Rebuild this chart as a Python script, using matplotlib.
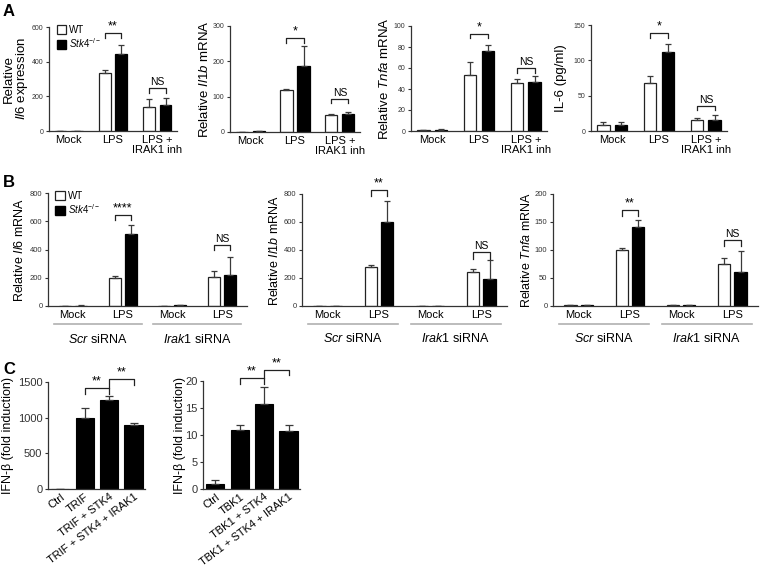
import numpy as np
import matplotlib
matplotlib.use("Agg")
import matplotlib.pyplot as plt
from matplotlib.patches import Patch

plt.rcParams["font.family"] = "Liberation Sans"
plt.rcParams["mathtext.fontset"] = "custom"
plt.rcParams["mathtext.rm"] = "Liberation Sans"
plt.rcParams["mathtext.it"] = "Liberation Sans:italic"
plt.rcParams["mathtext.bf"] = "Liberation Sans:bold"

# ---- data: panel A (mouse macrophages) ----
groups_a = ["Mock", "LPS", "LPS +\nIRAK1 inh"]
il6_wt, il6_wt_err = [1, 335, 140], [0.5, 18, 47]
il6_ko, il6_ko_err = [1, 445, 152], [0.5, 50, 40]
il1b_wt, il1b_wt_err = [1, 118, 48], [0.3, 5, 3]
il1b_ko, il1b_ko_err = [1.5, 187, 52], [0.3, 55, 6]
tnfa_wt, tnfa_wt_err = [1, 53, 46], [0.2, 13, 4]
tnfa_ko, tnfa_ko_err = [1.3, 76, 47], [0.2, 6, 5]
il6p_wt, il6p_wt_err = [9, 68, 15], [4, 10, 3]
il6p_ko, il6p_ko_err = [9, 112, 16], [4, 11, 6]

# ---- data: panel B (siRNA) ----
groups_b = ["Mock", "LPS", "Mock", "LPS"]
b_il6_wt, b_il6_wt_err = [2, 196, 1, 204], [1, 17, 0.5, 47]
b_il6_ko, b_il6_ko_err = [3, 511, 5, 220], [1, 64, 1, 125]
b_il1b_wt, b_il1b_wt_err = [1, 281, 1, 245], [0.5, 12, 0.5, 17]
b_il1b_ko, b_il1b_ko_err = [2, 598, 3, 196], [0.5, 150, 0.5, 131]
b_tnfa_wt, b_tnfa_wt_err = [1.5, 100, 1, 75], [0.3, 4, 0.3, 10]
b_tnfa_ko, b_tnfa_ko_err = [2, 141, 2, 61], [0.3, 13, 0.3, 38]

# ---- data: panel C (reporter) ----
groups_c1 = ["Ctrl", "TRIF", "TRIF + STK4", "TRIF + STK4 + IRAK1"]
ifnb_trif, ifnb_trif_err = [0, 1000, 1248, 895], [0, 133, 57, 29]
groups_c2 = ["Ctrl", "TBK1", "TBK1 + STK4", "TBK1 + STK4 + IRAK1"]
ifnb_tbk1, ifnb_tbk1_err = [0.9, 10.9, 15.7, 10.7], [0.7, 1.0, 3.1, 1.2]

W, H = 763, 576
fig = plt.figure(figsize=(W / 100, H / 100), dpi=100)

EDGE = "#222222"
ERR = "#3a3a3a"


def axes_px(l, r, t, b):
    return fig.add_axes([l / W, 1 - b / H, (r - l) / W, (b - t) / H])


def style(ax, ticks, tsize, xsize):
    ax.spines["top"].set_visible(False)
    ax.spines["right"].set_visible(False)
    for s in ("left", "bottom"):
        ax.spines[s].set_linewidth(0.9)
        ax.spines[s].set_color("#333333")
    ax.set_yticks(ticks)
    ax.set_ylim(0, ticks[-1])
    ax.tick_params(axis="y", labelsize=tsize, length=2.5, width=0.8, pad=1.5, colors="#333333")
    ax.tick_params(axis="x", labelsize=xsize, length=0, pad=3)
    ax.set_facecolor("none")


def pair_bars(ax, n, wt, wt_err, ko, ko_err, width, off):
    x = np.arange(n)
    ekw = dict(ecolor=ERR, elinewidth=0.9, capsize=2.5, capthick=0.9)
    ax.bar(x - off, wt, width, color="white", edgecolor=EDGE, linewidth=0.9,
           yerr=[np.zeros(n), wt_err], error_kw=ekw, zorder=2)
    ax.bar(x + off, ko, width, color="black", edgecolor="black", linewidth=0.9,
           yerr=[np.zeros(n), ko_err], error_kw=ekw, zorder=2)


def bracket(ax, x1, x2, ytop, yl, yr, text, size):
    ax.plot([x1, x1, x2, x2], [yl, ytop, ytop, yr], color="#222222", lw=0.9,
            clip_on=False, zorder=3)
    ax.annotate(text, ((x1 + x2) / 2, ytop), xytext=(0, 0.5), textcoords="offset points",
                ha="center", va="bottom", fontsize=size, annotation_clip=False)


# ================= Panel A =================
wa, oa = 0.27, 0.19
a_specs = [
    ((49, 177, 27, 131), [0, 200, 400, 600], il6_wt, il6_wt_err, il6_ko, il6_ko_err,
     "Relative\n$\\mathit{Il6}$ expression", -0.145, [(566, 534, "**"), (249, 221, "NS")]),
    ((230, 360, 26, 132), [0, 100, 200, 300], il1b_wt, il1b_wt_err, il1b_ko, il1b_ko_err,
     "Relative $\\mathit{Il1b}$ mRNA", -0.15, [(267, 253, "*"), (93, 82, "NS")]),
    ((411, 547, 26, 131), [0, 20, 40, 60, 80, 100], tnfa_wt, tnfa_wt_err, tnfa_ko, tnfa_ko_err,
     "Relative $\\mathit{Tnfa}$ mRNA", -0.145, [(92.4, 88.5, "*"), (60, 55.5, "NS")]),
    ((591, 727, 25, 131), [0, 50, 100, 150], il6p_wt, il6p_wt_err, il6p_ko, il6p_ko_err,
     "IL-6 (pg/ml)", -0.175, [(139, 132, "*"), (35.5, 30, "NS")]),
]
axes_a = []
for box, ticks, wt, wte, ko, koe, ylab, lx, brs in a_specs:
    ax = axes_px(*box)
    pair_bars(ax, 3, wt, wte, ko, koe, wa, oa)
    style(ax, ticks, 5, 8)
    ax.set_xlim(-0.45, 2.45)
    ax.set_xticks(range(3))
    ax.set_xticklabels(groups_a, linespacing=1.0)
    ax.set_ylabel(ylab, fontsize=9.5, linespacing=1.0)
    ax.yaxis.set_label_coords(lx, 0.5)
    for gi, (yt, ye, txt) in zip([1, 2], brs):
        bracket(ax, gi - oa, gi + oa, yt, ye, ye, txt, 7.5 if txt == "NS" else 9)
    axes_a.append(ax)

leg_handles = [Patch(facecolor="white", edgecolor=EDGE, linewidth=0.9),
               Patch(facecolor="black", edgecolor="black")]
leg_labels = ["WT", "$\\mathit{Stk4}^{-/-}$"]
axes_a[0].legend(leg_handles, leg_labels, loc="upper left", bbox_to_anchor=(0.06, 1.02),
                 frameon=False, fontsize=7, handlelength=1.0, handleheight=1.0,
                 handletextpad=0.3, labelspacing=0.15, borderaxespad=0, borderpad=0)

# ================= Panel B =================
wb, ob = 0.24, 0.16
b_specs = [
    ((48, 247, 193, 306), [0, 200, 400, 600, 800], b_il6_wt, b_il6_wt_err, b_il6_ko, b_il6_ko_err,
     "Relative $\\mathit{Il6}$ mRNA", -0.11, [(646, 606, "****"), (433, 393, "NS")]),
    ((302, 507, 194, 306), [0, 200, 400, 600, 800], b_il1b_wt, b_il1b_wt_err, b_il1b_ko, b_il1b_ko_err,
     "Relative $\\mathit{Il1b}$ mRNA", -0.1, [(828, 788, "**"), (386, 338, "NS")]),
    ((553, 758, 194, 306), [0, 50, 100, 150, 200], b_tnfa_wt, b_tnfa_wt_err, b_tnfa_ko, b_tnfa_ko_err,
     "Relative $\\mathit{Tnfa}$ mRNA", -0.1, [(171.6, 161.5, "**"), (118, 108, "NS")]),
]
axes_b = []
for box, ticks, wt, wte, ko, koe, ylab, lx, brs in b_specs:
    ax = axes_px(*box)
    pair_bars(ax, 4, wt, wte, ko, koe, wb, ob)
    style(ax, ticks, 5.5, 8)
    ax.set_xlim(-0.5, 3.5)
    ax.set_xticks(range(4))
    ax.set_xticklabels(groups_b)
    ax.set_ylabel(ylab, fontsize=9)
    ax.yaxis.set_label_coords(lx, 0.5)
    for gi, (yt, ye, txt) in zip([1, 3], brs):
        bracket(ax, gi - ob, gi + ob, yt, ye, ye, txt, 7.5 if txt == "NS" else 9)
    trans = ax.get_xaxis_transform()
    for g0, lab in [(0, "$\\mathit{Scr}$ siRNA"), (2, "$\\mathit{Irak1}$ siRNA")]:
        ax.plot([g0 - 0.38, g0 + 1.38], [-0.16, -0.16], transform=trans, color="#b0b0b0",
                lw=1.2, clip_on=False)
        ax.text(g0 + 0.5, -0.235, lab, transform=trans, ha="center", va="top", fontsize=9)
    axes_b.append(ax)

axes_b[0].legend(leg_handles, leg_labels, loc="upper left", bbox_to_anchor=(0.035, 1.02),
                 frameon=False, fontsize=7, handlelength=1.0, handleheight=1.0,
                 handletextpad=0.3, labelspacing=0.15, borderaxespad=0, borderpad=0)

# ================= Panel C =================
c_specs = [
    ((48, 145, 382, 489), [0, 500, 1000, 1500], groups_c1, ifnb_trif, ifnb_trif_err, -0.35,
     [(1, 2, 1421, 1337, 1337), (2, 3, 1542, 1421, 1453)]),
    ((203, 300, 381, 489), [0, 5, 10, 15, 20], groups_c2, ifnb_tbk1, ifnb_tbk1_err, -0.18,
     [(1, 2, 20.56, 19.4, 19.4), (2, 3, 22.1, 20.56, 21.05)]),
]
for box, ticks, labels, vals, errs, lx, brs in c_specs:
    ax = axes_px(*box)
    x = np.arange(len(vals))
    ax.bar(x, vals, 0.74, color="black", edgecolor="black", linewidth=0.8,
           yerr=[np.zeros(len(vals)), errs],
           error_kw=dict(ecolor=ERR, elinewidth=0.9, capsize=3, capthick=0.9), zorder=2)
    style(ax, ticks, 8, 8)
    ax.set_xlim(-0.5, 3.47)
    ax.set_xticks(x)
    ax.set_xticklabels(labels, rotation=37, ha="right", rotation_mode="anchor")
    ax.tick_params(axis="x", pad=2)
    ax.set_ylabel("IFN-β (fold induction)", fontsize=9)
    ax.yaxis.set_label_coords(lx, 0.5)
    for x1, x2, yt, yl, yr in brs:
        bracket(ax, x1, x2, yt, yl, yr, "**", 9)

# panel letters
for lab, (px, py) in {"A": (9, 12), "B": (9, 183), "C": (9, 369)}.items():
    fig.text(px / W, 1 - py / H, lab, fontsize=12, fontweight="bold", ha="center", va="center")

fig.savefig("out.png", dpi=100)
